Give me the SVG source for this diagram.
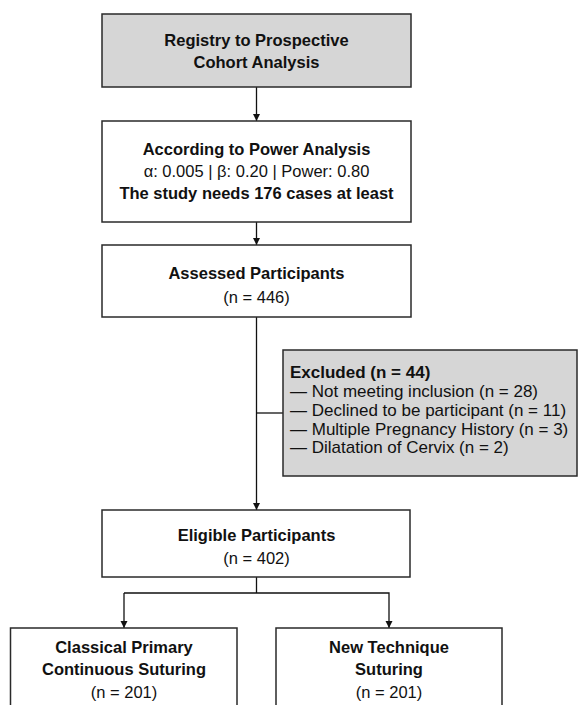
<svg xmlns="http://www.w3.org/2000/svg" width="578" height="705" viewBox="0 0 578 705">
<defs>
<marker id="arr" viewBox="0 0 10 10" refX="10" refY="5" markerWidth="7" markerHeight="9" markerUnits="userSpaceOnUse" orient="auto">
<path d="M0,0 L10,5 L0,10 z" fill="#111"/>
</marker>
<style>
.box{fill:#fff;stroke:#2a2a2a;stroke-width:1.5}
.gray{fill:#d6d6d6;stroke:#2a2a2a;stroke-width:1.5}
.t{font-family:"Liberation Sans",Arial,sans-serif;font-size:16.5px;fill:#111;text-anchor:middle}
.b{font-weight:bold}
.l{text-anchor:start;font-size:17px}
.c{fill:none;stroke:#111;stroke-width:1.3}
</style>
</defs>
<g id="connectors">
<line class="c" x1="256.5" y1="87" x2="256.5" y2="121" marker-end="url(#arr)"/>
<line class="c" x1="256.5" y1="222" x2="256.5" y2="245" marker-end="url(#arr)"/>
<line class="c" x1="256.5" y1="317" x2="256.5" y2="510" marker-end="url(#arr)"/>
<line class="c" x1="256.5" y1="413" x2="283" y2="413"/>
<polyline class="c" points="256.5,577 256.5,593"/>
<polyline class="c" points="124,593 389,593 389,628" marker-end="url(#arr)"/>
<line class="c" x1="124" y1="593" x2="124" y2="628" marker-end="url(#arr)"/>
</g>
<g id="registry">
<rect class="gray" x="102" y="14" width="309" height="73"/>
<text class="t b" x="256.5" y="46">Registry to Prospective</text>
<text class="t b" x="256.5" y="68">Cohort Analysis</text>
</g>
<g id="power">
<rect class="box" x="102" y="121" width="309" height="101"/>
<text class="t b" x="256.5" y="155">According to Power Analysis</text>
<text class="t" x="256.5" y="177">α: 0.005 | β: 0.20 | Power: 0.80</text>
<text class="t b" x="256.5" y="199">The study needs 176 cases at least</text>
</g>
<g id="assessed">
<rect class="box" x="102" y="245" width="309" height="72"/>
<text class="t b" x="256.5" y="279">Assessed Participants</text>
<text class="t" x="256.5" y="303">(n = 446)</text>
</g>
<g id="excluded">
<rect class="gray" x="283" y="350" width="294" height="126"/>
<text class="t b l" x="290" y="378">Excluded (n = 44)</text>
<text class="t l" x="290" y="397">— Not meeting inclusion (n = 28)</text>
<text class="t l" x="290" y="416">— Declined to be participant (n = 11)</text>
<text class="t l" x="290" y="435">— Multiple Pregnancy History (n = 3)</text>
<text class="t l" x="290" y="453">— Dilatation of Cervix (n = 2)</text>
</g>
<g id="eligible">
<rect class="box" x="102" y="510" width="308" height="67"/>
<text class="t b" x="256.5" y="541">Eligible Participants</text>
<text class="t" x="256.5" y="564">(n = 402)</text>
</g>
<g id="classical">
<rect class="box" x="10.5" y="628" width="226.5" height="90"/>
<text class="t b" x="124" y="653">Classical Primary</text>
<text class="t b" x="124" y="675">Continuous Suturing</text>
<text class="t" x="124" y="698">(n = 201)</text>
</g>
<g id="newtech">
<rect class="box" x="276" y="628" width="226" height="90"/>
<text class="t b" x="389" y="653">New Technique</text>
<text class="t b" x="389" y="675">Suturing</text>
<text class="t" x="389" y="698">(n = 201)</text>
</g>
</svg>
